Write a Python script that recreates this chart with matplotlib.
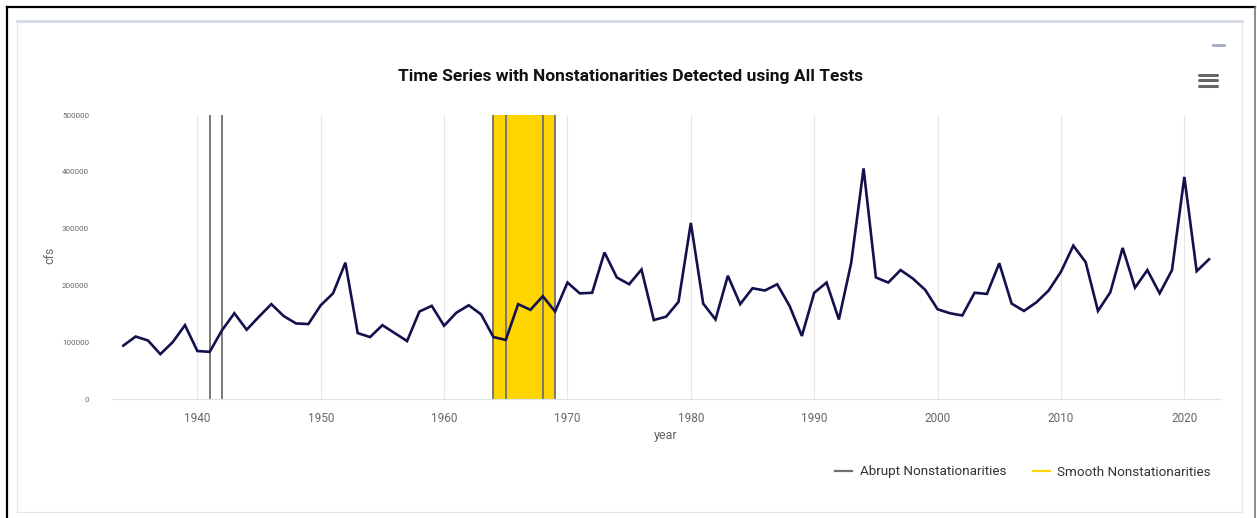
import matplotlib
matplotlib.use("Agg")
import matplotlib.pyplot as plt
from matplotlib.lines import Line2D
from matplotlib.patches import Rectangle

years = list(range(1934, 2023))
flow = [
	94000, 110000, 103000, 79000, 100000, 130000, 84500, 83000, 121000, 151000,   # 1934-1943
	122000, 145000, 167000, 146000, 133000, 132000, 165000, 186000, 240000, 116000,  # 1944-1953
	109000, 130000, 116000, 102000, 154000, 164000, 129000, 152000, 165000, 149000,  # 1954-1963
	109000, 104000, 167000, 157000, 181000, 154000, 205000, 186000, 187000, 258000,  # 1964-1973
	214000, 202000, 228000, 139000, 145000, 171000, 310000, 168000, 140000, 217000,  # 1974-1983
	167000, 195000, 191000, 202000, 164000, 111000, 187000, 205000, 140000, 240000,  # 1984-1993
	406000, 214000, 205000, 227000, 212000, 192000, 158000, 151000, 147000, 187000,  # 1994-2003
	185000, 239000, 168000, 155000, 170000, 191000, 224000, 270000, 241000, 155000,  # 2004-2013
	188000, 266000, 196000, 227000, 186000, 227000, 391000, 225000, 246000,          # 2014-2022
]
abrupt_years = [1941, 1942, 1964, 1965, 1968, 1969]
smooth_start = 1964
smooth_end = 1969
xticks = [1940, 1950, 1960, 1970, 1980, 1990, 2000, 2010, 2020]
yticks = [0, 100000, 200000, 300000, 400000, 500000]

title = "Time Series with Nonstationarities Detected using All Tests"

W, H = 1257, 518
fig = plt.figure(figsize=(W / 100, H / 100), dpi=100)
fig.patch.set_facecolor("white")

def fx(px):
	return px / W

def fy(py):
	return 1 - py / H

# outer frame and card (kept behind the axes)
fig.add_artist(Line2D([fx(7), fx(7)], [fy(7), 0], color="black", lw=1.6, zorder=-3))
fig.add_artist(Line2D([fx(7), fx(1255)], [fy(7), fy(7)], color="black", lw=1.6, zorder=-3))
fig.add_artist(Line2D([fx(1255), fx(1255)], [fy(7), 0], color="#777777", lw=1.2, zorder=-3))
fig.add_artist(Rectangle((fx(17), fy(512)), fx(1242 - 17), (512 - 21) / H,
	facecolor="white", edgecolor="#e4e6ea", lw=0.8, zorder=-2))
fig.add_artist(Line2D([fx(17), fx(1242)], [fy(21), fy(21)], color="#d9dde5", lw=2.2, zorder=-1))

# icons
for yy in [75, 80, 86]:
	fig.add_artist(Line2D([fx(1199), fx(1217)], [fy(yy), fy(yy)], color="#666666", lw=2.2, solid_capstyle="round"))
fig.add_artist(Line2D([fx(1213), fx(1224)], [fy(45), fy(45)], color="#a2aac8", lw=2.0))

ax = fig.add_axes([fx(112.7), fy(399), fx(1220 - 112.7), 284 / H])
ax.set_zorder(5)
ax.set_facecolor("none")

ax.axvspan(smooth_start, smooth_end, color="#FFD500", lw=0, zorder=1)
for yr in abrupt_years:
	ax.axvline(yr, color="#707070", lw=1.3, zorder=2)
ax.plot(years, flow, color="#12114e", lw=1.9, zorder=3, solid_joinstyle="miter")

ax.set_xlim(1933.14, 2022.89)
ax.set_ylim(0, 500000)
ax.set_xticks(xticks)
ax.set_yticks(yticks)
ax.set_yticklabels([str(v) for v in yticks])
ax.grid(axis="x", color="#e6e6e6", lw=0.8, zorder=0)
ax.set_axisbelow(True)
ax.tick_params(axis="both", length=0)
ax.tick_params(axis="y", labelsize=5.8, labelcolor="#666666", pad=17)
ax.tick_params(axis="x", labelsize=8.5, labelcolor="#666666", pad=9)
for lab in ax.get_xticklabels() + ax.get_yticklabels():
	lab.set_family("Roboto")
for s in ["top", "right", "left"]:
	ax.spines[s].set_visible(False)
ax.spines["bottom"].set_color("#dde3ea")
ax.spines["bottom"].set_linewidth(0.9)

fig.text(fx(50), fy(255), "cfs", rotation=90, ha="center", va="center",
	fontsize=9, color="#666666", family="Roboto")
fig.text(fx(666), fy(436), "year", ha="center", va="center",
	fontsize=9, color="#666666", family="Roboto")
fig.text(fx(630), fy(76), title, ha="center", va="center", fontsize=12.5,
	fontweight="bold", color="#111111", family=["Liberation Sans Narrow", "Roboto", "DejaVu Sans"])

handles = [Line2D([], [], color="#707070", lw=1.6), Line2D([], [], color="#FFD500", lw=1.6)]
leg = fig.legend(handles, ["Abrupt Nonstationarities", "Smooth Nonstationarities"],
	loc="center right", bbox_to_anchor=(fx(1223), fy(472)), ncol=2, frameon=False,
	handlelength=1.25, handletextpad=0.55, columnspacing=2.0,
	prop={"family": "Roboto", "size": 9.7})
for t in leg.get_texts():
	t.set_color("#333333")

fig.savefig("out.png", dpi=100)
